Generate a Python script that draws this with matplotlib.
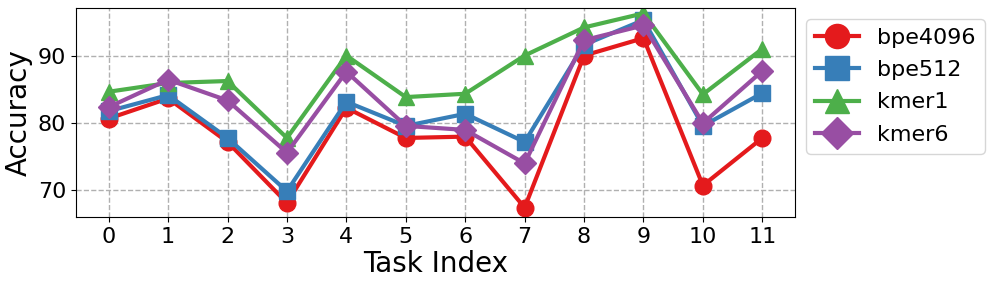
import matplotlib
matplotlib.use("Agg")
import matplotlib.pyplot as plt

tasks = list(range(12))
bpe4096 = [80.7, 83.7, 77.2, 68.1, 82.3, 77.8, 78.0, 67.4, 90.1, 92.7, 70.7, 77.8]
bpe512 = [81.8, 84.2, 77.8, 69.85, 83.2, 79.6, 81.4, 77.2, 91.7, 95.4, 79.6, 84.5]
kmer1 = [84.7, 86.0, 86.3, 77.8, 90.1, 83.9, 84.4, 90.1, 94.3, 96.4, 84.3, 91.1]
kmer6 = [82.4, 86.5, 83.4, 75.6, 87.7, 79.6, 79.0, 74.0, 92.4, 94.6, 80.0, 87.8]

series = [("bpe4096", bpe4096, "#e41a1c", "o"),
          ("bpe512", bpe512, "#377eb8", "s"),
          ("kmer1", kmer1, "#4daf4a", "^"),
          ("kmer6", kmer6, "#984ea3", "D")]

fig = plt.figure(figsize=(9.97, 2.87), dpi=100)
ax = fig.add_axes([76/997, 1-217/287, (795-76)/997, (217-8)/287])
for name, vals, c, m in series:
    ax.plot(tasks, vals, color=c, marker=m, markersize=12 if m != "D" else 11,
            linewidth=3, label=name)
ax.set_xticks(tasks)
ax.set_xlim(-0.55, 11.55)
ax.set_ylim(66.0, 97.2)
ax.set_yticks([70, 80, 90])
ax.tick_params(labelsize=16)
ax.set_xlabel("Task Index", fontsize=20, labelpad=2)
ax.set_ylabel("Accuracy", fontsize=20)
ax.grid(True, linestyle="--", color="#b0b0b0", linewidth=1)
ax.legend(loc="upper left", bbox_to_anchor=(1.0, 1.0), fontsize=16, markerscale=1.45,
          handlelength=2.0, labelspacing=0.55)
fig.savefig("out.png", dpi=100)
